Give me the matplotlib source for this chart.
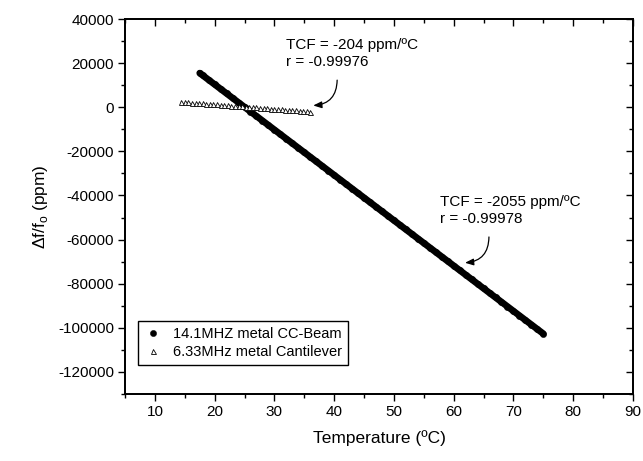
#!/usr/bin/env python3

import matplotlib.pyplot as plt
import numpy as np

plt.rcParams['font.family'] = ['Liberation Sans', 'DejaVu Sans']
plt.rcParams['mathtext.fontset'] = 'custom'
plt.rcParams['mathtext.rm'] = 'Liberation Sans'
plt.rcParams['axes.unicode_minus'] = False

# 14.1 MHz metal CC-Beam (temperature in C, df/f0 in ppm)
beamTemp = [17.5, 18, 19, 20, 21, 22, 23, 24, 25, 26, 27, 28, 29, 30, 31, 32, 33,
            34, 35, 36, 37, 38, 39, 40, 41, 42, 43, 44, 45, 46, 47, 48, 49, 50,
            51, 52, 53, 54, 55, 56, 57, 58, 59, 60, 61, 62, 63, 64, 65, 66, 67,
            68, 69, 70, 71, 72, 73, 74, 75]
beamPpm = [15500, 14470, 12420, 10360, 8310, 6250, 4200, 2140, 90, -1970, -4020,
           -6080, -8130, -10190, -12240, -14300, -16350, -18410, -20460, -22520,
           -24570, -26630, -28680, -30740, -32790, -34850, -36900, -38960, -41010,
           -43070, -45120, -47180, -49230, -51290, -53340, -55400, -57450, -59510,
           -61560, -63620, -65670, -67730, -69780, -71840, -73890, -75950, -78000,
           -80060, -82110, -84170, -86220, -88280, -90330, -92390, -94440, -96500,
           -98550, -100610, -102660]

# 6.33 MHz metal Cantilever
cantTemp = [14.4, 15.0, 15.6, 16.2, 16.8, 17.4, 18.0, 18.6, 19.2, 19.8, 20.4, 21.0,
            21.6, 22.2, 22.8, 23.4, 24.0, 24.6, 25.2, 25.8, 26.4, 27.0, 27.6, 28.2,
            28.8, 29.4, 30.0, 30.6, 31.2, 31.8, 32.4, 33.0, 33.6, 34.2, 34.8, 35.4,
            36.0]
cantPpm = [2480, 2360, 2230, 2110, 1990, 1870, 1750, 1620, 1500, 1380, 1260, 1130,
           1010, 890, 770, 640, 520, 400, 280, 150, 30, -90, -210, -340, -460, -580,
           -700, -830, -950, -1070, -1190, -1320, -1440, -1560, -1680, -1800, -1930]

seriesLabels = ['14.1MHZ metal CC-Beam', '6.33MHz metal Cantilever']
fitText = ['TCF = -204 ppm/\u00baC\nr = -0.99976', 'TCF = -2055 ppm/\u00baC\nr = -0.99978']


def plot(fileName):
    fig = plt.figure(figsize=(6.43, 4.61), dpi=100)
    ax = fig.add_axes([0.1944, 0.1453, 0.79, 0.8134])

    ax.plot(beamTemp, beamPpm, '-', color='black', lw=4.8, solid_capstyle='round')
    ax.plot(beamTemp, beamPpm, 'o', color='black', ms=4.5, mew=0.3, label=seriesLabels[0])
    ax.plot(cantTemp, cantPpm, '^', mfc='white', mec='black', ms=3.6, mew=0.6,
            label=seriesLabels[1])

    ax.set_xlim(5, 90)
    ax.set_ylim(-130000, 40000)
    ax.set_xticks(np.arange(10, 91, 10))
    ax.set_xticks(np.arange(5, 91, 5), minor=True)
    ax.set_yticks(np.arange(-120000, 40001, 20000))
    ax.set_yticks(np.arange(-130000, 40001, 10000), minor=True)

    ax.tick_params(which='both', direction='out', labelsize=11, width=1, color='black')
    ax.tick_params(which='major', length=5, pad=3)
    ax.tick_params(which='minor', length=3)

    # inward ticks on top and right
    ax2 = ax.twinx()
    ax2.set_ylim(ax.get_ylim())
    ax2.set_yticks(ax.get_yticks())
    ax2.set_yticks(ax.get_yticks(minor=True), minor=True)
    ax2.tick_params(which='both', direction='in', labelright=False, width=1)
    ax2.tick_params(which='major', length=5)
    ax2.tick_params(which='minor', length=3)
    ax3 = ax.twiny()
    ax3.set_xlim(ax.get_xlim())
    ax3.set_xticks(ax.get_xticks())
    ax3.set_xticks(ax.get_xticks(minor=True), minor=True)
    ax3.tick_params(which='both', direction='in', labeltop=False, width=1)
    ax3.tick_params(which='major', length=5)
    ax3.tick_params(which='minor', length=3)
    for a in (ax, ax2, ax3):
        for s in a.spines.values():
            s.set_linewidth(1.1)

    ax.set_xlabel('Temperature (\u00baC)', fontsize=12.5, labelpad=8)
    ax.set_ylabel('\u0394f/f$_\\mathregular{o}$ (ppm)', fontsize=12.5, labelpad=6)

    ax.text(31.9, 31400, fitText[0], fontsize=11, va='top', ha='left', linespacing=1.25)
    ax.annotate('', xy=(36.5, 800), xytext=(40.5, 12300),
                arrowprops=dict(arrowstyle='-|>,head_length=0.5,head_width=0.2',
                                color='black', lw=0.9,
                                connectionstyle='arc3,rad=-0.45',
                                shrinkA=0, shrinkB=0))
    ax.text(57.7, -39800, fitText[1], fontsize=11, va='top', ha='left', linespacing=1.25)
    ax.annotate('', xy=(61.9, -70500), xytext=(65.9, -58800),
                arrowprops=dict(arrowstyle='-|>,head_length=0.5,head_width=0.2',
                                color='black', lw=0.9,
                                connectionstyle='arc3,rad=-0.45',
                                shrinkA=0, shrinkB=0))

    leg = ax.legend(loc='lower left', bbox_to_anchor=(0.0256, 0.0773), borderaxespad=0,
                    fontsize=10.5, numpoints=1, fancybox=False, framealpha=1,
                    edgecolor='black', handlelength=1.2, handletextpad=0.8,
                    borderpad=0.4, labelspacing=0.3)
    leg.get_frame().set_linewidth(1)

    plt.savefig(fileName, dpi=100)


if __name__ == '__main__':
    plot("out.png")
